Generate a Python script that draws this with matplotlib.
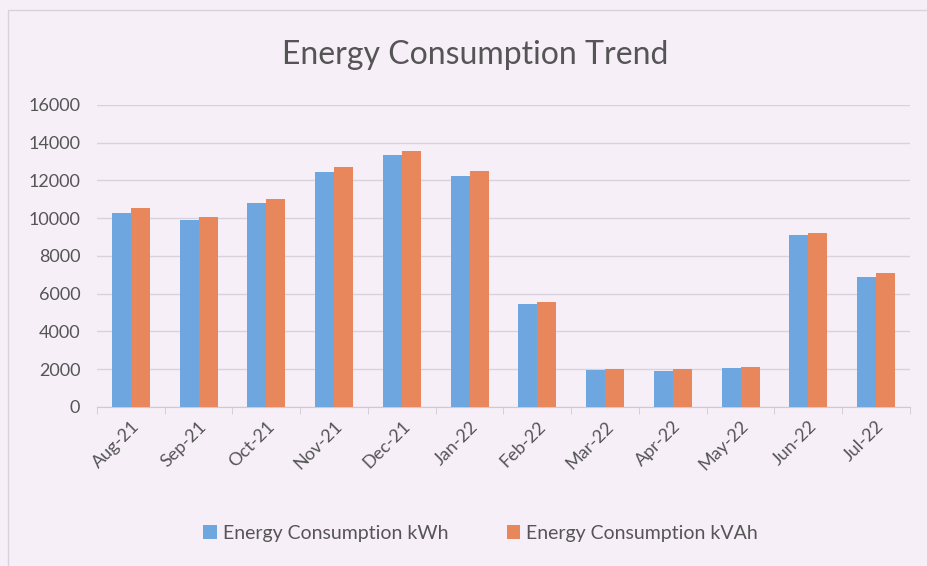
import numpy as np
import matplotlib.pyplot as plt
from matplotlib.patches import Rectangle

months = ["Aug-21", "Sep-21", "Oct-21", "Nov-21", "Dec-21", "Jan-22",
          "Feb-22", "Mar-22", "Apr-22", "May-22", "Jun-22", "Jul-22"]
kwh = [10300, 9900, 10800, 12470, 13330, 12240, 5460, 1960, 1930, 2050, 9100, 6900]
kvah = [10520, 10080, 11000, 12700, 13580, 12490, 5560, 2030, 2000, 2100, 9200, 7110]
yticks = [0, 2000, 4000, 6000, 8000, 10000, 12000, 14000, 16000]

bg = "#f6eff8"
plt.rcParams['font.family'] = ['Lato', 'DejaVu Sans']

fig = plt.figure(figsize=(9.28, 5.66), dpi=100, facecolor=bg)
fig.patches.append(Rectangle((0.009, -0.05), 1.1, 1.033, transform=fig.transFigure,
                             fill=False, ec="#d9d2dc", lw=1))
ax = fig.add_axes([0.1045, 0.281, 0.876, 0.5335], facecolor=bg)

x = np.arange(len(months))
w = 0.28
ax.bar(x - w / 2, kwh, w, color="#6ea7e0", label="Energy Consumption kWh", zorder=3)
ax.bar(x + w / 2, kvah, w, color="#e8875b", label="Energy Consumption kVAh", zorder=3)

ax.set_xlim(-0.5, len(months) - 0.5)
ax.set_ylim(0, 16000)
ax.set_yticks(yticks)
ax.yaxis.grid(True, color="#d8d2dc", lw=1, zorder=0)
for s in ["top", "right", "left"]:
    ax.spines[s].set_visible(False)
ax.spines["bottom"].set_color("#cfc9d2")

ax.set_xticks(x)
ax.set_xticklabels(months, rotation=45, ha="right", rotation_mode="anchor",
                   fontsize=13, color="#555555")
ax.set_xticks(np.arange(-0.5, len(months)), minor=True)
ax.tick_params(axis="x", which="major", length=0, pad=8)
ax.tick_params(axis="x", which="minor", length=5, color="#cfc9d2")
ax.tick_params(axis="y", length=0, labelsize=13, labelcolor="#555555", pad=12)

fig.text(0.512, 0.903, "Energy Consumption Trend", ha="center", va="center",
         fontsize=23, color="#555555")

fig.legend(loc="center", bbox_to_anchor=(0.518, 0.058), ncol=2, frameon=False,
           fontsize=14, handlelength=0.7, handleheight=0.7, handletextpad=0.3,
           columnspacing=3.0, labelcolor="#555555")

fig.savefig("out.png", dpi=100, facecolor=bg)
